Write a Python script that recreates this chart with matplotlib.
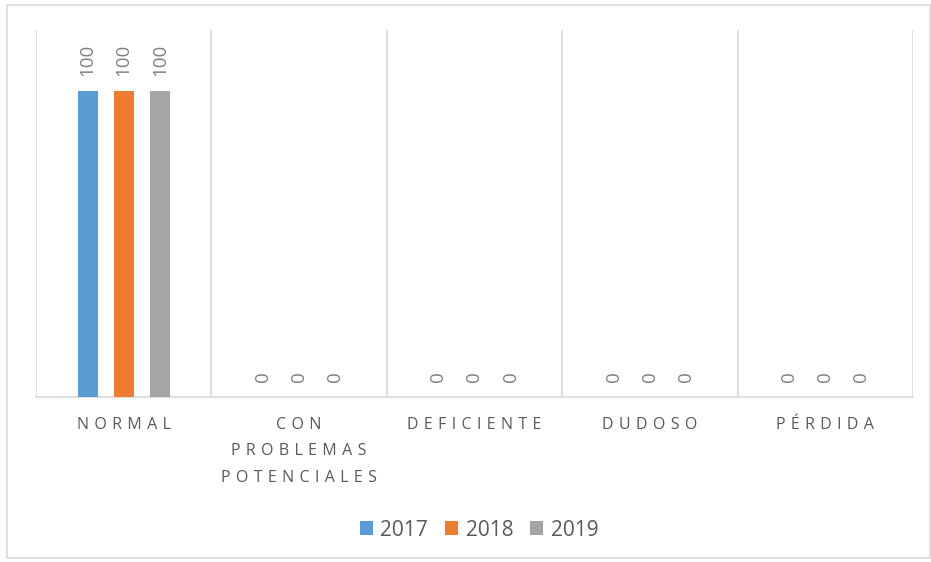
import numpy as np
import matplotlib
matplotlib.use("Agg")
import matplotlib.pyplot as plt
from matplotlib.patches import Rectangle

plt.rcParams["font.family"] = ["Open Sans", "DejaVu Sans"]

# --- Data ----------------------------------------------------------------
CATEGORIES = ["NORMAL", "CON\nPROBLEMAS\nPOTENCIALES", "DEFICIENTE",
              "DUDOSO", "PÉRDIDA"]
YEARS = ["2017", "2018", "2019"]
VALUES_2017 = [100, 0, 0, 0, 0]
VALUES_2018 = [100, 0, 0, 0, 0]
VALUES_2019 = [100, 0, 0, 0, 0]
SERIES = [VALUES_2017, VALUES_2018, VALUES_2019]
COLOURS = ["#5b9bd5", "#ed7d31", "#a5a5a5"]

GRID = "#d9d9d9"
TEXT = "#595959"


def spaced(label):
    # wide letter spacing like the original, done with thin spaces
    return "\n".join("\u2004".join(line) for line in label.split("\n"))


fig = plt.figure(figsize=(9.31, 5.62), dpi=100)
ax = fig.add_axes([36 / 931, 165 / 562, 877 / 931, 367 / 562])

x = np.arange(len(CATEGORIES))
bar_w = 0.114
step = 0.206
for i, (year, vals) in enumerate(zip(YEARS, SERIES)):
    bars = ax.bar(x + (i - 1) * step, vals, bar_w, color=COLOURS[i],
                  label=year, zorder=3)
    ax.bar_label(bars, rotation=90, padding=11, fontsize=13.5,
                 color="#7f7f7f")

ax.set_xlim(-0.5, len(CATEGORIES) - 0.5)
ax.set_ylim(0, 120)
ax.set_yticks([])
ax.set_xticks(x)
ax.set_xticklabels([spaced(c) for c in CATEGORIES], fontsize=11.5,
                   color=TEXT, linespacing=1.85, va="top")
ax.tick_params(axis="x", length=0, pad=14.5)
ax.set_xticks(np.arange(-0.5, len(CATEGORIES)), minor=True)
ax.tick_params(axis="x", which="minor", length=0)
ax.grid(which="minor", axis="x", color=GRID, linewidth=1.2, zorder=0)

for side in ["top", "right", "left"]:
    ax.spines[side].set_visible(False)
ax.spines["bottom"].set_color(GRID)
ax.spines["bottom"].set_linewidth(1.2)

# thin frame around the whole chart
fig.patches.append(Rectangle((7 / 931, 4 / 562), 923 / 931, 553 / 562,
                             transform=fig.transFigure, fill=False,
                             edgecolor=GRID, linewidth=1.2))

fig.legend(loc="center", bbox_to_anchor=(479 / 931, 1 - 530 / 562), ncol=3,
           frameon=False, fontsize=15, handlelength=0.65, handleheight=0.65,
           handletextpad=0.35, columnspacing=0.8, labelcolor=TEXT)

fig.savefig("out.png", dpi=100)
